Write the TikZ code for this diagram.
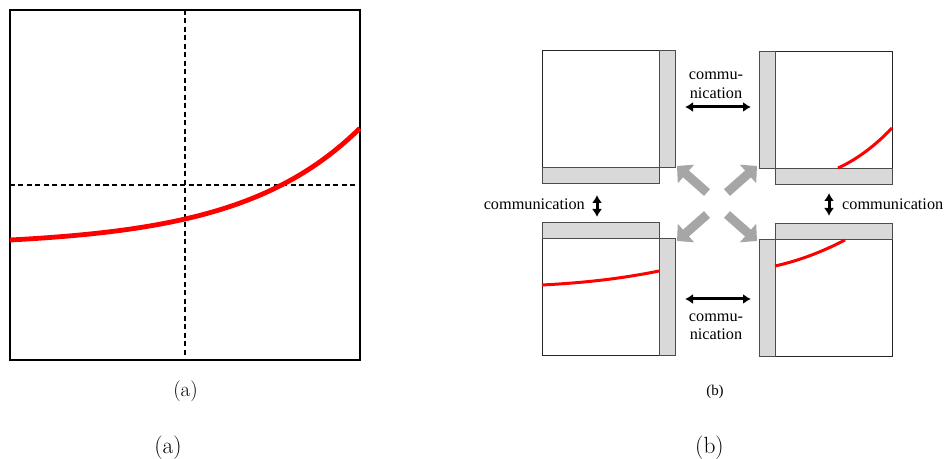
\documentclass[tikz,border=0pt]{standalone}
\usepackage{fontspec}
\newfontfamily\timesfont{Liberation Serif}
\usetikzlibrary{arrows.meta,positioning}
\tikzset{
  cell/.style={draw=black!85,line width=1bp,minimum width=117bp,minimum height=117bp,inner sep=0pt,outer sep=0pt},
  vhalo/.style={draw=black!70,fill=black!15,line width=1bp,minimum width=16bp,minimum height=117bp,inner sep=0pt,outer sep=0pt},
  hhalo/.style={draw=black!70,fill=black!15,line width=1bp,minimum width=117bp,minimum height=16bp,inner sep=0pt,outer sep=0pt},
  sol/.style={red,line width=3bp},
  comm/.style={{Latex[length=8bp,width=10bp]}-{Latex[length=8bp,width=10bp]},line width=3bp},
  move/.style={-{Triangle[length=12bp,width=24bp]},line width=9bp,draw=black!35},
  lbl/.style={font=\timesfont\fontsize{16.3}{18}\selectfont,inner sep=0pt},
  subcap/.style={inner sep=0pt,anchor=base},
  axis/.style={dash pattern=on 5bp off 3.5bp,line width=1.1bp},
}
\begin{document}
\begin{tikzpicture}[x=1bp,y=-1bp]
  \useasboundingbox (0,0) rectangle (944,459);
  % (a)
  \node[draw,line width=1.1bp,minimum size=350bp,inner sep=0pt,outer sep=0pt] (plot) at (185,185) {};
  \draw[axis] (plot.north) -- (plot.south);
  \draw[axis] (plot.west) -- (plot.east);
  \draw[red,line width=4.8bp] plot[domain=0:1,samples=60] ({10+350*\x},{246.3-6.3*exp(2.932*\x)});
  \node[subcap,font=\fontsize{21}{24}\selectfont] (capa) at (185.5,396) {(a)};
  % (b)
  \node[cell] (q1) at (600.5,109.5) {};
  \node[cell] (q2) at (833.5,110) {};
  \node[cell] (q3) at (600.5,297.5) {};
  \node[cell] (q4) at (833.5,298) {};
  \node[vhalo,right=0pt of q1] (h1r) {};
  \node[hhalo,below=0pt of q1] (h1b) {};
  \node[vhalo,left=0pt of q2] (h2l) {};
  \node[hhalo,below=0pt of q2] (h2b) {};
  \node[vhalo,right=0pt of q3] (h3r) {};
  \node[hhalo,above=0pt of q3] (h3t) {};
  \node[vhalo,left=0pt of q4] (h4l) {};
  \node[hhalo,above=0pt of q4] (h4t) {};
  \draw[sol] (838,168) .. controls (856,160) and (875,146) .. (892,128);
  \draw[sol] (542,285) .. controls (581,283) and (620,279) .. (659,271);
  \draw[sol] (775,266) .. controls (798,261) and (822,252) .. (845,240);
  \coordinate (hub) at (717,203.5);
  \foreach \sx/\sy in {-1/-1,1/-1,-1/1,1/1}
    \draw[move] ([shift={(\sx*10,\sy*11)}]hub) -- ([shift={(\sx*40,\sy*37.5)}]hub);
  \coordinate (t1) at (685,107);
  \coordinate (t2) at (751,107);
  \coordinate (b1) at (685,299);
  \coordinate (b2) at (751,299);
  \coordinate (l1) at (597,195);
  \coordinate (l2) at (597,217);
  \coordinate (r1) at (829,193);
  \coordinate (r2) at (829,216);
  \draw[comm] (t1) -- (t2);
  \draw[comm] (b1) -- (b2);
  \draw[comm] (l1) -- (l2);
  \draw[comm] (r1) -- (r2);
  \node[lbl,anchor=base] (ct1) at (716,80) {commu-};
  \node[lbl,anchor=base] (ct2) at (716,99) {nication};
  \node[lbl,anchor=base] (cb1) at (716,322) {commu-};
  \node[lbl,anchor=base] (cb2) at (716,340) {nication};
  \node[lbl,anchor=east] (cl) at (585,204) {communication};
  \node[lbl,anchor=west] (cr) at (842,204) {communication};
  \node[subcap,font=\timesfont\fontsize{15}{18}\selectfont] (capb) at (715,395) {(b)};
  % sub captions
  \node[subcap,font=\fontsize{23.5}{28}\selectfont] (suba) at (168,453) {(a)};
  \node[subcap,font=\fontsize{23.5}{28}\selectfont] (subb) at (709.5,453) {(b)};
\end{tikzpicture}
\end{document}
